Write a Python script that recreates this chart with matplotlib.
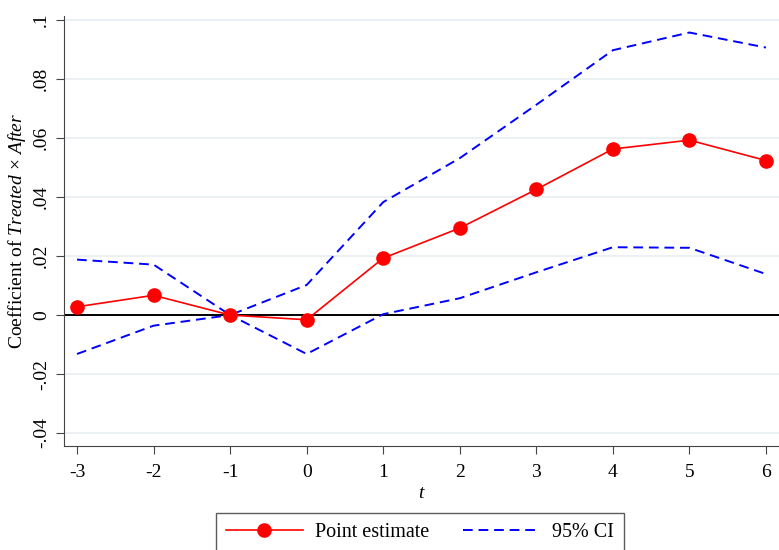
import numpy as np
import matplotlib
matplotlib.use("Agg")
from matplotlib import pyplot as plt

# event-time coefficients
t = [-3, -2, -1, 0, 1, 2, 3, 4, 5, 6]
point_est = [0.0028, 0.0067, 0.0, -0.0016, 0.0193, 0.0295, 0.0426, 0.0563, 0.0593, 0.0524]
ci_upper = [0.0188, 0.0171, 0.0, 0.0102, 0.0383, 0.0532, 0.0713, 0.0898, 0.0958, 0.0907]
ci_lower = [-0.0132, -0.0036, 0.0, -0.0132, 0.0003, 0.0057, 0.0145, 0.0230, 0.0228, 0.0139]
yticks = [-0.04, -0.02, 0, 0.02, 0.04, 0.06, 0.08, 0.1]
ytick_labels = ['-.04', '-.02', '0', '.02', '.04', '.06', '.08', '.1']

plt.rcParams['font.family'] = ['Liberation Serif', 'DejaVu Serif']
plt.rcParams['mathtext.fontset'] = 'custom'
plt.rcParams['mathtext.rm'] = 'Liberation Serif'
plt.rcParams['mathtext.it'] = 'Liberation Serif:italic'

fig = plt.figure(figsize=(7.79, 5.5), dpi=100)
# axes box in pixels: left spine x=64, bottom spine y=446, top y=16
ax = fig.add_axes([64/779, 1-446/550, 1-64/779, (446-16)/550])

for y in yticks:
    if y != 0:
        ax.axhline(y, color='#e8eff1', lw=1.2, zorder=0)
ax.axhline(0, color='black', lw=1.4, zorder=1)

ax.plot(t, ci_upper, color='#0000ff', lw=1.4, ls=(0, (5, 3)), label='95% CI', zorder=2)
ax.plot(t, ci_lower, color='#0000ff', lw=1.4, ls=(0, (5, 3)), zorder=2)
ax.plot(t, point_est, color='#ff0000', lw=1.2, marker='o', ms=9.5, label='Point estimate', zorder=3)

ax.set_xlim(-3.17, 6.17)
ax.set_ylim(-0.0444, 0.1014)
ax.set_xticks(t)
ax.set_xticklabels([str(v) for v in t], fontsize=14)
ax.set_yticks(yticks)
ax.set_yticklabels(ytick_labels, fontsize=14, rotation=90, va='center')
for s in ['top', 'right']:
    ax.spines[s].set_visible(False)
ax.spines['left'].set_color('#444444')
ax.spines['bottom'].set_color('#444444')
ax.tick_params(direction='out', length=6, color='#444444', pad=4)
ax.tick_params(axis='x', pad=7)

ax.set_xlabel('$t$', fontsize=14, labelpad=3)
ax.set_ylabel(r'Coefficient of $Treated$ $\times$ $After$', fontsize=14, labelpad=4)

h, l = ax.get_legend_handles_labels()
leg = fig.legend([h[1], h[0]], [l[1], l[0]], loc='upper center', bbox_to_anchor=(420/779, 1-513/550),
                 ncol=2, fontsize=14.5, frameon=True, fancybox=False, edgecolor='#333333',
                 borderaxespad=0, handlelength=3.8, columnspacing=1.7, borderpad=0.5,
                 handletextpad=0.6)
leg.get_frame().set_linewidth(1.0)

fig.savefig('out.png', dpi=100)
